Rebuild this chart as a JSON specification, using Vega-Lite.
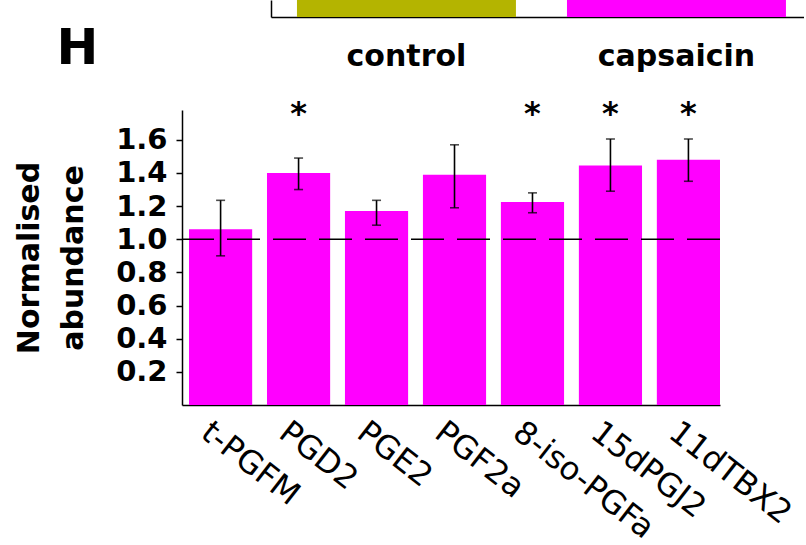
{
  "$schema": "https://vega.github.io/schema/vega-lite/v6.json",
  "padding": {"left": 14, "top": 0, "right": 0, "bottom": 0},
  "background": "white",
  "bounds": "flush",
  "spacing": 93,
  "config": {
    "view": {"stroke": null},
    "axis": {
      "labelFont": "DejaVu Sans",
      "titleFont": "DejaVu Sans",
      "labelColor": "black",
      "titleColor": "black",
      "domainColor": "black",
      "tickColor": "black",
      "grid": false
    }
  },
  "datasets": {
    "groups": [{"group": "control"}, {"group": "capsaicin"}],
    "prost": [
      {"name": "t-PGFM", "value": 1.06, "lo": 0.9, "hi": 1.235, "sig": ""},
      {"name": "PGD2", "value": 1.4, "lo": 1.3, "hi": 1.49, "sig": "*"},
      {"name": "PGE2", "value": 1.17, "lo": 1.085, "hi": 1.235, "sig": ""},
      {"name": "PGF2a", "value": 1.39, "lo": 1.19, "hi": 1.57, "sig": ""},
      {"name": "8-iso-PGFa", "value": 1.225, "lo": 1.16, "hi": 1.28, "sig": "*"},
      {"name": "15dPGJ2", "value": 1.445, "lo": 1.29, "hi": 1.605, "sig": "*"},
      {"name": "11dTBX2", "value": 1.48, "lo": 1.35, "hi": 1.605, "sig": "*"}
    ],
    "one": [{"k": 1}]
  },
  "vconcat": [
    {
      "width": 622,
      "height": 17,
      "data": {"name": "groups"},
      "mark": {"type": "bar"},
      "encoding": {
        "x": {
          "field": "group",
          "type": "nominal",
          "sort": null,
          "scale": {"range": [89, 622], "paddingInner": 0.189, "paddingOuter": 0.0815, "align": 0.59},
          "axis": {
            "title": null,
            "labelAngle": 0,
            "labelFontSize": 30,
            "labelFontWeight": "bold",
            "ticks": false,
            "tickSize": 0,
            "labelPadding": 24,
            "domainWidth": 1.5
          }
        },
        "y": {
          "datum": 1,
          "type": "quantitative",
          "scale": {"domain": [0, 1], "nice": false},
          "axis": {
            "title": "H",
            "titleAngle": 0,
            "titleFontSize": 50,
            "titleFontWeight": "bold",
            "titleAlign": "left",
            "titleBaseline": "alphabetic",
            "titleX": -215,
            "titleY": 63,
            "labels": false,
            "ticks": false,
            "domainWidth": 1.5,
            "offset": -89
          }
        },
        "color": {
          "field": "group",
          "type": "nominal",
          "scale": {"domain": ["control", "capsaicin"], "range": ["#B4B400", "#FF00FF"]},
          "legend": null
        }
      }
    },
    {
      "width": 538,
      "height": 295,
      "data": {"name": "prost"},
      "layer": [
        {
          "mark": {"type": "bar", "color": "#FF00FF"},
          "encoding": {
            "x": {
              "field": "name",
              "type": "nominal",
              "sort": null,
              "scale": {"paddingInner": 0.19, "paddingOuter": 0.045, "align": 1},
              "axis": {
                "title": null,
                "labelAngle": 38,
                "labelFontSize": 32,
                "labelAlign": "left",
                "labelBaseline": "top",
                "labelOffset": -6,
                "labelPadding": 11,
                "ticks": false,
                "domainWidth": 1.5
              }
            },
            "y": {
              "field": "value",
              "type": "quantitative",
              "title": ["Normalised", "abundance"],
              "scale": {"domain": [0, 1.78], "nice": false},
              "axis": {
                "title": ["Normalised", "abundance"],
                "titleFontSize": 30,
                "titleFontWeight": "bold",
                "titleLineHeight": 44,
                "titlePadding": 27,
                "values": [0.2, 0.4, 0.6, 0.8, 1.0, 1.2, 1.4, 1.6],
                "format": ".1f",
                "labelFontSize": 29,
                "labelFontWeight": "bold",
                "labelPadding": 9,
                "tickSize": 6,
                "tickWidth": 1.5,
                "domainWidth": 1.5
              }
            }
          }
        },
        {
          "data": {"name": "one"},
          "mark": {"type": "rule", "color": "black", "strokeWidth": 1.5, "strokeDash": [33, 13]},
          "encoding": {"y": {"datum": 1, "type": "quantitative"}}
        },
        {
          "mark": {"type": "rule", "color": "black", "strokeWidth": 1.6},
          "encoding": {
            "x": {"field": "name", "type": "nominal", "sort": null},
            "y": {"field": "lo", "type": "quantitative"},
            "y2": {"field": "hi"}
          }
        },
        {
          "mark": {"type": "tick", "color": "black", "size": 9, "thickness": 1.6},
          "encoding": {
            "x": {"field": "name", "type": "nominal", "sort": null},
            "y": {"field": "lo", "type": "quantitative"}
          }
        },
        {
          "mark": {"type": "tick", "color": "black", "size": 9, "thickness": 1.6},
          "encoding": {
            "x": {"field": "name", "type": "nominal", "sort": null},
            "y": {"field": "hi", "type": "quantitative"}
          }
        },
        {
          "mark": {"type": "text", "font": "DejaVu Sans", "fontWeight": "bold", "fontSize": 32, "baseline": "alphabetic", "color": "black"},
          "encoding": {
            "x": {"field": "name", "type": "nominal", "sort": null},
            "y": {"datum": 1.695, "type": "quantitative"},
            "text": {"field": "sig"}
          }
        }
      ]
    }
  ]
}
